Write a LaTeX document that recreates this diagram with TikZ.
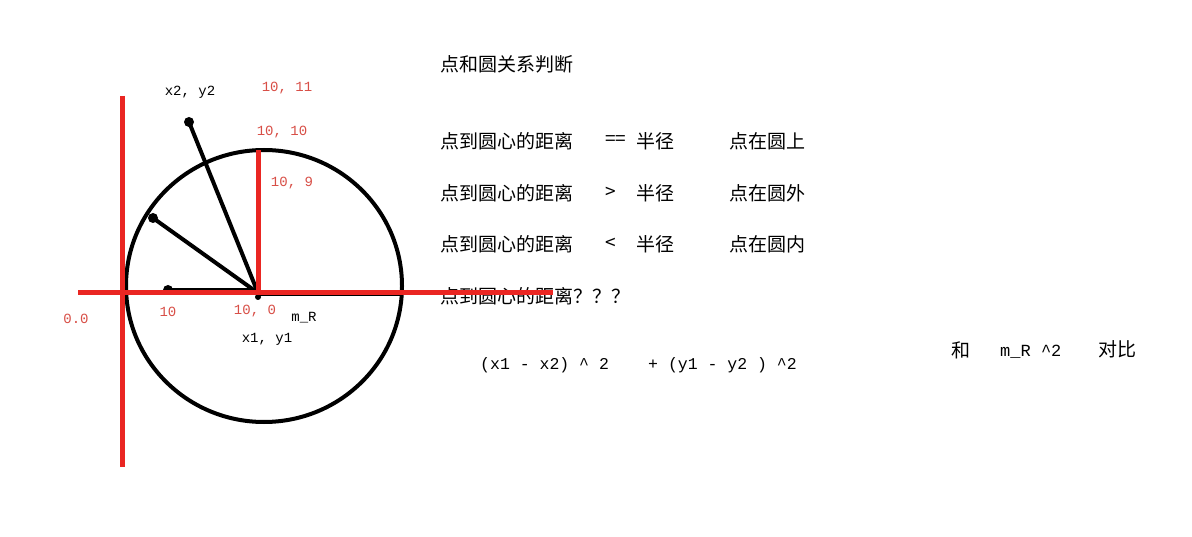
\documentclass[tikz,border=0pt]{standalone}
\usepackage{fontspec}
\setmainfont{Liberation Mono}
\newfontfamily\cjk{Noto Sans CJK SC}
\usetikzlibrary{calc}
\definecolor{penred}{RGB}{234,38,34}
\definecolor{labelred}{RGB}{216,78,70}

\begin{document}
\begin{tikzpicture}[x=1pt,y=-1pt]
\tikzset{axis/.style={penred, line width=5pt}, pen/.style={black, line width=4pt}}
\tikzset{dot/.style={circle, fill=black, inner sep=0pt, minimum size=10pt}}
\tikzset{redlabel/.style={labelred, inner sep=0pt, font=\fontsize{14}{16}\selectfont},
  blacklabel/.style={inner sep=0pt, font=\fontsize{14}{16}\selectfont},
  cn/.style={anchor=west, inner sep=0pt, font=\cjk\fontsize{19}{22}\selectfont},
  mono/.style={anchor=west, inner sep=0pt, font=\fontsize{16.5}{19}\selectfont}}
\useasboundingbox[fill=white] (0,0) rectangle (1192,537);

% circle and radii
\coordinate (c) at (258,293);
\coordinate (e) at (402,294);
\coordinate (top) at (258,150);
\draw[pen] (264,286) ellipse [x radius=138, y radius=136];
\node[dot] (p2) at (189,122) {};
\node[dot] (p1) at (153,218) {};
\node[dot] (p0) at (168,290) {};
\draw[pen] (p2.center) -- (c);
\draw[pen] (p1.center) -- (c);
\draw[pen] (p0.center) -- (c |- p0);
\draw[pen] ($(c)+(0,1)$) -- (e);
\node[dot, minimum size=6pt] (o) at (258,297) {};

% axes
\coordinate (xl) at (78,293);
\coordinate (xr) at (553,293);
\coordinate (yt) at (122,96);
\coordinate (yb) at (122,467);
\draw[axis] (yt) -- (yb);
\draw[axis] (c) -- (top);

% labels on the sketch
\node[blacklabel] (n2) at (190,92) {x2, y2};
\node[redlabel] (r11) at (287,88) {10, 11};
\node[redlabel] (r10) at (282,132) {10, 10};
\node[redlabel] (r9) at (292,183) {10, 9};
\node[redlabel] (r0) at (255,311) {10, 0};
\node[redlabel] (r00) at (76,319) {0.0};
\node[redlabel] (rten) at (168,312) {10};
\node[blacklabel] (mr) at (304,318) {m\_R};
\node[blacklabel] (n1) at (267,339) {x1, y1};

% rules
\node[cn] (title) at (440,64) {点和圆关系判断};
\foreach \y/\op/\res in {141/==/点在圆上, 193/>/点在圆外, 244/</点在圆内} {
  \node[cn] (d\y) at (440,\y) {点到圆心的距离};
  \node[cn] (op\y) at (605,\y) {\op};
  \node[cn] (rad\y) at (636,\y) {半径};
  \node[cn] (res\y) at (729,\y) {\res};
}
\node[cn] (ask) at (440,296) {点到圆心的距离？？？};
\draw[axis] (xl) -- (xr);

% formula
\node[mono] (fx) at (480,365) {(x1 - x2) \^{} 2};
\node[mono] (fy) at (648,365) {+ (y1 - y2 ) \^{}2};
\node[cn] (he) at (951,350) {和};
\node[mono, font=\fontsize{17}{20}\selectfont] (mr2) at (1000,352) {m\_R \^{}2};
\node[cn] (cmp) at (1098,349) {对比};
\end{tikzpicture}
\end{document}
